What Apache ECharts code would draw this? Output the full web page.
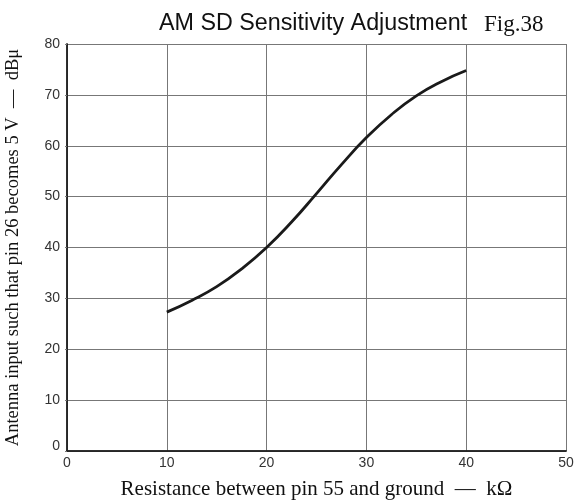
<!DOCTYPE html>
<html><head><meta charset="utf-8">
<script src="https://cdn.jsdelivr.net/npm/echarts@6/dist/echarts.min.js"></script>
<style>html,body{margin:0;padding:0;background:#fff}#c{width:576px;height:500px}</style>
</head><body><div id="c"></div>
<script>
var resistance = [10, 12.5, 15, 17.5, 20, 22.5, 25, 27.5, 30, 32.5, 35, 37.5, 40];
var inputLevel = [27.3, 29.6, 32.3, 35.8, 40, 45, 50.6, 56.3, 61.6, 66.1, 69.8, 72.6, 74.8];
var xTicks = [0, 10, 20, 30, 40, 50];
var yTicks = [0, 10, 20, 30, 40, 50, 60, 70, 80];
var titleMain = 'AM SD Sensitivity Adjustment';
var titleFig = 'Fig.38';
var xName = 'Resistance between pin 55 and ground  \u2014  k\u03A9';
var yName = 'Antenna input such that pin 26 becomes 5 V  \u2014  dB\u03BC';

var chart = echarts.init(document.getElementById('c'));
var serif = '"Liberation Serif", "DejaVu Serif", serif';
var sans = '"Liberation Sans", Arial, sans-serif';
chart.setOption({
  animation: false,
  backgroundColor: '#fff',
  title: [{
    text: titleMain, left: 159, top: 12, padding: 0,
    textStyle: {fontFamily: sans, fontSize: 23.3, fontWeight: 'normal', color: '#111'}
  }, {
    text: titleFig, left: 484, top: 13, padding: 0,
    textStyle: {fontFamily: serif, fontSize: 23, fontWeight: 'normal', color: '#111'}
  }],
  grid: {left: 67, right: 10, top: 44, bottom: 49, outerBoundsMode: 'none', containLabel: false},
  xAxis: [{
    type: 'value', min: 0, max: 50, interval: 10,
    name: xName, nameLocation: 'middle', nameGap: 28,
    nameTextStyle: {fontFamily: serif, fontSize: 21, color: '#111'},
    axisLine: {show: true, lineStyle: {color: '#222', width: 1.5}},
    axisTick: {show: false},
    axisLabel: {fontFamily: sans, fontSize: 14, color: '#333', margin: 5,
      formatter: function (v) { return xTicks.indexOf(v) >= 0 ? String(v) : ''; }},
    splitLine: {show: true, lineStyle: {color: '#777', width: 1}}
  }, {
    type: 'value', min: 0, max: 50, position: 'top',
    axisLine: {show: true, lineStyle: {color: '#222', width: 1.5}},
    axisTick: {show: false}, axisLabel: {show: false}, splitLine: {show: false}
  }],
  yAxis: [{
    type: 'value', min: 0, max: 80, interval: 10,
    name: yName, nameLocation: 'middle', nameGap: 44,
    nameTextStyle: {fontFamily: serif, fontSize: 18.5, color: '#111'},
    axisLine: {show: true, lineStyle: {color: '#222', width: 1.5}},
    axisTick: {show: true, length: 2, lineStyle: {color: '#777'}},
    axisLabel: {fontFamily: sans, fontSize: 14, color: '#333', margin: 7,
      formatter: function (v) {
        if (yTicks.indexOf(v) < 0) return '';
        return v === 0 ? '{z|0}' : String(v);
      },
      rich: {z: {fontFamily: sans, fontSize: 14, color: '#333', padding: [0, 0, 10, 0]}}},
    splitLine: {show: true, lineStyle: {color: '#777', width: 1}}
  }, {
    type: 'value', min: 0, max: 80, position: 'right',
    axisLine: {show: true, lineStyle: {color: '#222', width: 1.5}},
    axisTick: {show: false}, axisLabel: {show: false}, splitLine: {show: false}
  }],
  series: [{
    type: 'line', smooth: true, symbol: 'none',
    lineStyle: {color: '#1a1a1a', width: 2.8},
    data: resistance.map(function (x, i) { return [x, inputLevel[i]]; })
  }]
});
</script></body></html>
